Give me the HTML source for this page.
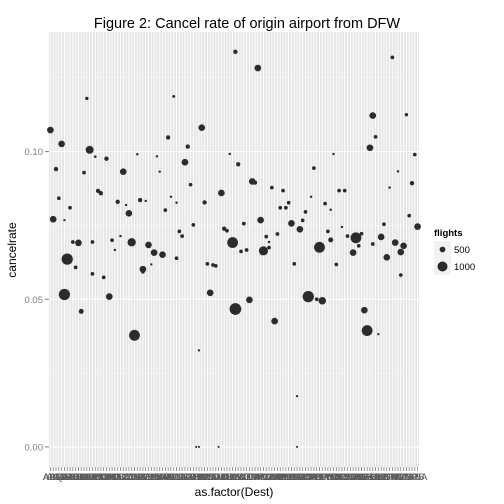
<!DOCTYPE html>
<html><head><meta charset="utf-8"><style>
html,body{margin:0;padding:0;background:#fff;}
svg{display:block;font-family:"Liberation Sans",sans-serif;}
</style></head><body>
<svg id="chart" width="504" height="504" viewBox="0 0 504 504" xmlns="http://www.w3.org/2000/svg">
<text x="247" y="28" font-size="14.5" text-anchor="middle" fill="#000">Figure 2: Cancel rate of origin airport from DFW</text>
<rect x="49" y="32" width="370" height="435" fill="#E5E5E5"/>
<g id="grid"></g>
<g id="points"></g>
<g id="yaxis"></g>
<g id="xaxis"></g>
<text transform="translate(16,250) rotate(-90)" font-size="12" text-anchor="middle">cancelrate</text>
<text x="234" y="496" font-size="12" text-anchor="middle">as.factor(Dest)</text>
<g>
<text x="434" y="236" font-size="9.5" font-weight="bold">flights</text>
<rect x="434" y="241" width="17" height="17" fill="#F2F2F2"/>
<circle cx="442.5" cy="249.5" r="2.9" fill="#2b2b2b"/>
<text x="454" y="253" font-size="9.5" fill="#000">500</text>
<rect x="434" y="258" width="17" height="17" fill="#F2F2F2"/>
<circle cx="442.5" cy="266.5" r="5" fill="#2b2b2b"/>
<text x="454" y="270" font-size="9.5" fill="#000">1000</text>
</g>
</svg>
<script>
const categories = ["ABI","ABQ","ACT","AEX","ALB","AMA","ASE","ATL","AUS","AVL","BDL","BFL","BHM","BNA","BOI","BOS","BPT","BRO","BTR","BUF","BWI","CAE","CHA","CHS","CID","CLE","CLL","CLT","CMH","COS","CRP","CVG","DAB","DAY","DCA","DEN","DSM","DTW","ELP","EVV","EWR","FAR","FAT","FLL","FSM","FWA","GCK","GGG","GJT","GPT","GRK","GRR","GSO","GSP","HNL","HOU","HRL","HSV","IAD","IAH","ICT","IND","JAN","JAX","JFK","LAS","LAW","LAX","LBB","LCH","LEX","LFT","LGA","LIT","LRD","MAF","MCI","MCO","MDW","MEM","MFE","MIA","MKE","MLI","MLU","MOB","MSN","MSP","MSY","OAK","OKC","OMA","ONT","ORD","ORF","PBI","PDX","PHL","PHX","PIT","PNS","PSP","RDU","RIC","RNO","ROC","ROW","RSW","SAN","SAT","SAV","SDF","SEA","SFO","SGF","SHV","SJC","SJT","SLC","SMF","SNA","SPS","STL","SWO","TPA","TUL","TUS","TXK","TYR","TYS","VPS","XNA"];
const destIndex = [0,66,13,4,54,14,42,44,49,2,16,20,31,38,48,64,67,12,26,39,50,17,18,61,3,24,27,32,34,43,45,55,7,1,5,28,41,51,69,62,63,46,47,25,8,10,15,22,29,35,65,68,70,23,6,37,40,45,9,33,56,58,59,36,15,19,33,5,21,11,30,57,66,71,53,52,53,60,
74,122,115,127,116,114,101,130,94,124,72,73,129,79,83,103,105,121,93,85,98,82,84,100,91,75,86,90,119,128,131,89,104,99,77,81,106,109,111,100,118,78,76,78,96,110,115,123,126,108,125,120,87,102,125,92,95,97,112,80,113,117,88,88];
const cancelRate = [0.1073,0.1338,0.1180,0.1026,0.1081,0.1006,0.1048,0.1187,0.1017,0.0941,0.0983,0.0976,0.0991,0.0984,0.0964,0.0992,0.0957,0.0929,0.0932,0.0932,0.0888,0.0867,0.0859,0.0860,0.0842,0.0830,0.0819,0.0836,0.0833,0.0847,0.0827,0.0828,0.0810,0.0771,0.0768,0.0791,0.0802,0.0752,0.0756,0.0739,0.0732,0.0730,0.0714,0.0714,0.0694,0.0691,0.0694,0.0700,0.0693,0.0684,0.0692,0.0662,0.0667,0.0667,0.0636,0.0658,0.0651,0.0639,0.0608,0.0602,0.0620,0.0616,0.0613,0.0618,0.0586,0.0574,0.0593,0.0516,0.0509,0.0459,0.0378,0.0522,0.0467,0.0498,0.0327,0,0,0,
0.1283,0.1319,0.1122,0.1125,0.1050,0.1013,0.0992,0.0990,0.0944,0.0933,0.0899,0.0895,0.0893,0.0878,0.0868,0.0868,0.0868,0.0878,0.0847,0.0827,0.0824,0.0810,0.0810,0.0803,0.0796,0.0768,0.0757,0.0767,0.0754,0.0783,0.0746,0.0737,0.0745,0.0730,0.0712,0.0721,0.0714,0.0708,0.0722,0.0701,0.0711,0.0694,0.0664,0.0675,0.0676,0.0681,0.0687,0.0692,0.0681,0.0658,0.0660,0.0642,0.0620,0.0618,0.0582,0.0509,0.0500,0.0495,0.0463,0.0426,0.0394,0.0382,0.0172,0];
const flights = [600,330,200,600,600,750,330,150,330,330,120,330,100,100,600,100,330,250,600,100,250,330,330,600,250,330,100,330,100,100,100,330,250,600,80,600,250,250,250,330,250,250,250,100,250,600,250,250,800,600,1100,250,250,100,1150,600,600,250,250,600,250,250,250,80,250,250,250,1150,600,400,1100,600,1200,600,80,60,60,60,
600,250,600,200,250,600,100,250,250,100,600,330,330,250,250,250,250,100,100,250,250,250,250,100,250,600,600,250,250,250,600,600,100,250,250,250,250,1100,250,400,600,100,900,250,1100,250,250,600,600,600,600,600,250,250,250,1150,250,700,600,600,1100,80,80,60];
const yTicks = [0, 0.05, 0.10];
const yTickLabels = ["0.00","0.05","0.10"];

const NS="http://www.w3.org/2000/svg";
const px0=49, px1=419, py0=32, py1=467;
const yMin=-0.0068, yMax=0.1405;
function xScale(i){ return px0 + (i+0.5)*(px1-px0)/categories.length; }
function yScale(v){ return py1 - (v-yMin)/(yMax-yMin)*(py1-py0); }
function rScale(f){ return 0.8 + 0.0042*f; }
function mk(tag, attrs, parent){ const e=document.createElementNS(NS,tag); for(const k in attrs) e.setAttribute(k,attrs[k]); parent.appendChild(e); return e; }

const grid=document.getElementById('grid');
for(let k=0;k<yTicks.length;k++){
  const v=yTicks[k]+0.025;
  const ln=mk('line',{x1:px0,x2:px1,y1:yScale(v),y2:yScale(v),stroke:'#F2F2F2','stroke-width':0.6},grid);
  
  
}
for(let i=0;i<categories.length;i++){
  const x=xScale(i);
  const ln=mk('line',{x1:x,x2:x,y1:py0,y2:py1,stroke:'#FFFFFF','stroke-width':0.9},grid);
  
  
}
for(let k=0;k<yTicks.length;k++){
  const y=yScale(yTicks[k]);
  const ln=mk('line',{x1:px0,x2:px1,y1:y,y2:y,stroke:'#FFFFFF','stroke-width':1.1},grid);
  
  
}
const yaxis=document.getElementById('yaxis');
for(let k=0;k<yTicks.length;k++){
  const y=yScale(yTicks[k]);
  const t=mk('line',{x1:px0-4,x2:px0,y1:y,y2:y,stroke:'#7f7f7f','stroke-width':1},yaxis);
  
  
  const lb=mk('text',{x:px0-6,y:y+3.5,'font-size':9.5,'text-anchor':'end',fill:'#7f7f7f'},yaxis);
  lb.textContent=yTickLabels[k];
  
  
}
const xaxis=document.getElementById('xaxis');
for(let i=0;i<categories.length;i++){
  const x=xScale(i);
  const t=mk('line',{x1:x,x2:x,y1:py1,y2:py1+4,stroke:'#7f7f7f','stroke-width':0.8},xaxis);
  
  
  const lb=mk('text',{x:x,y:py1+13,'font-size':9.5,'text-anchor':'middle',fill:'#5a5a5a'},xaxis);
  lb.textContent=categories[i];
  
  
}
const pts=document.getElementById('points');
for(let j=0;j<destIndex.length;j++){
  const c=mk('circle',{cx:xScale(destIndex[j]),cy:yScale(cancelRate[j]),r:rScale(flights[j]),fill:'#2b2b2b'},pts);
  
  
}
</script>
</body></html>
